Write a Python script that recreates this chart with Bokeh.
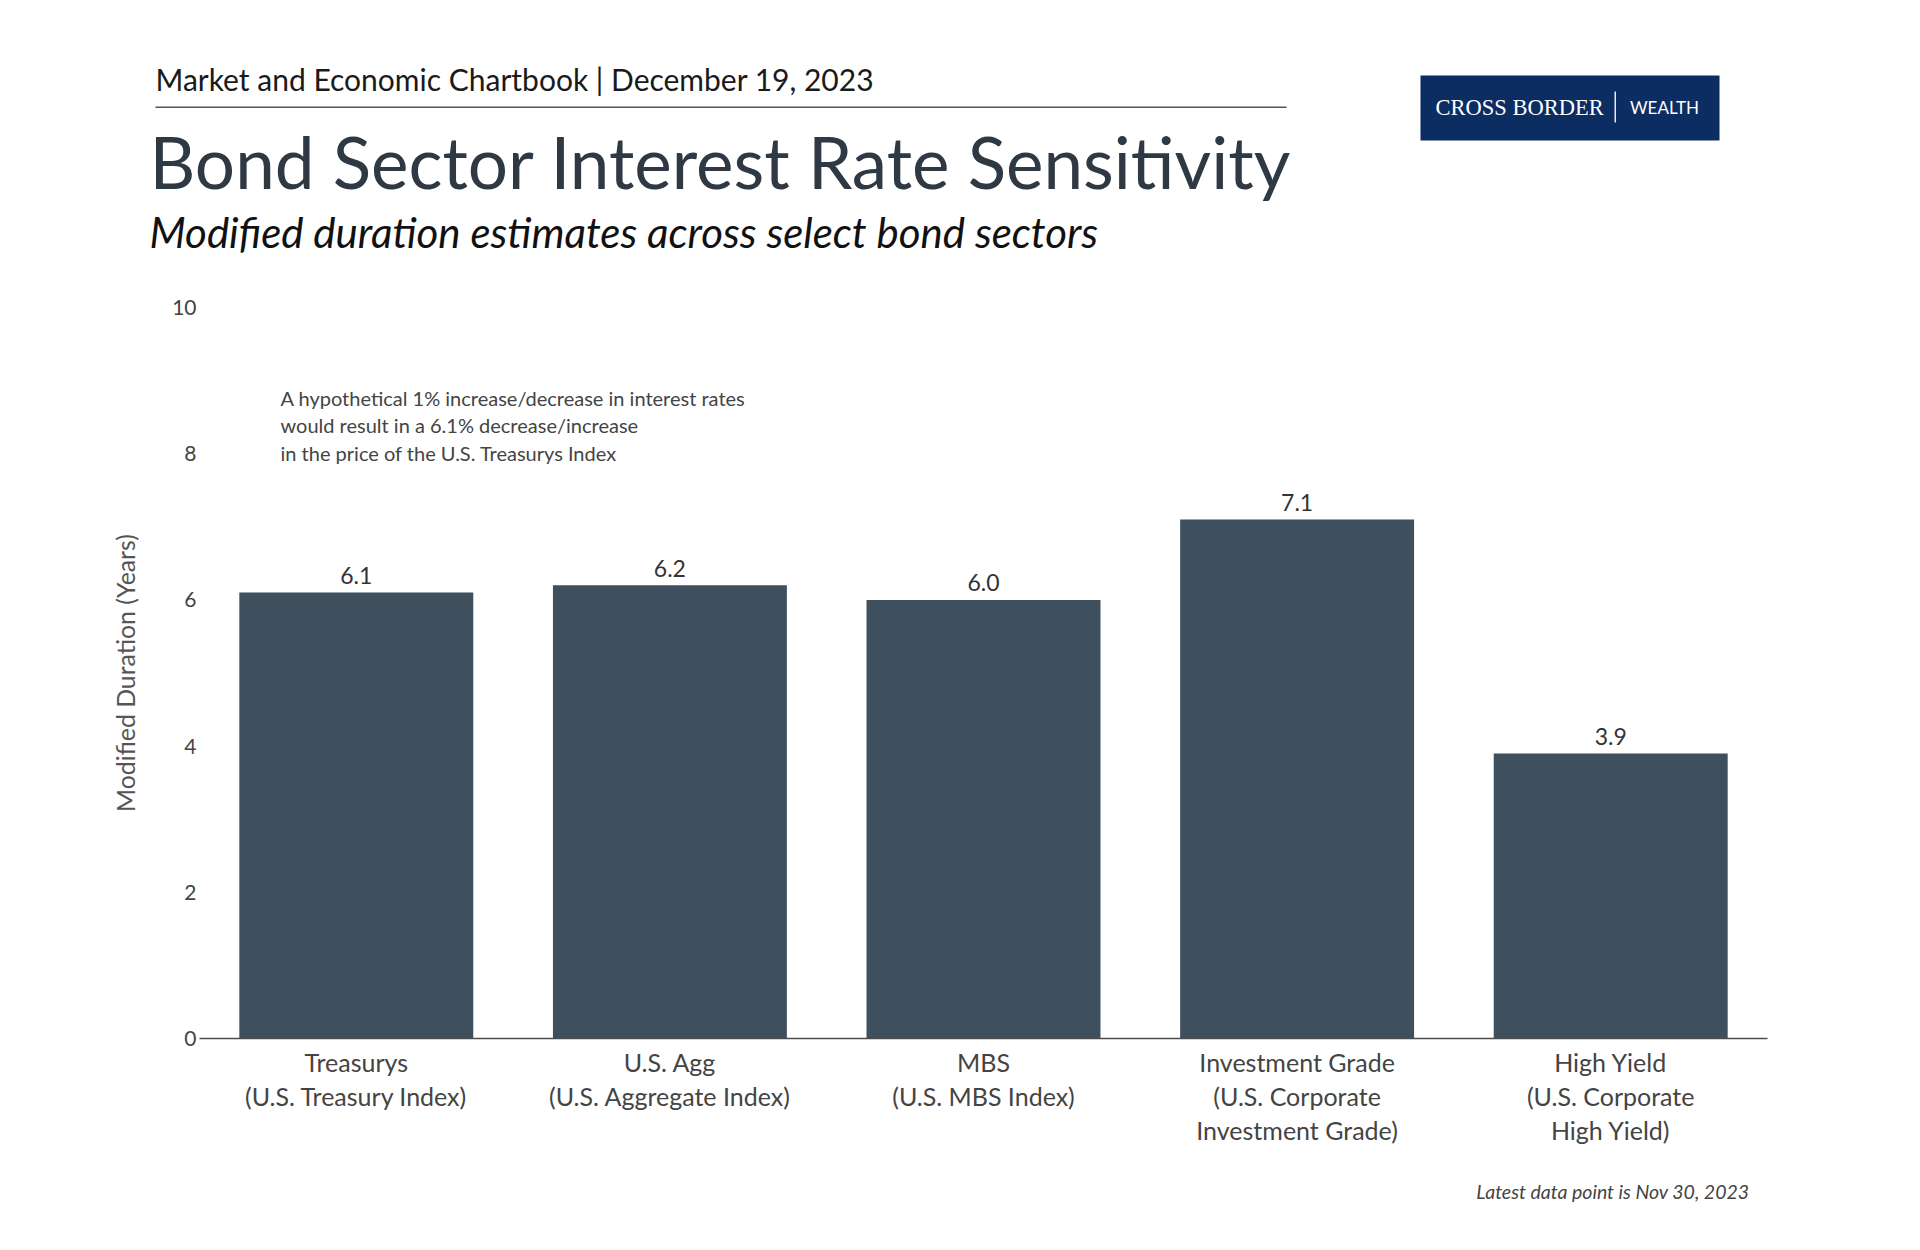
from bokeh.plotting import figure
from bokeh.layouts import column
from bokeh.models import (ColumnDataSource, FactorRange, Range1d, Label,
                          BoxAnnotation, FixedTicker)
from bokeh.core.properties import value
from bokeh.embed import file_html
from bokeh.resources import INLINE

# ---- data ----
categories = ["Treasurys", "U.S. Agg", "MBS", "Investment Grade", "High Yield"]
sublabels = ["(U.S. Treasury Index)", "(U.S. Aggregate Index)", "(U.S. MBS Index)",
             "(U.S. Corporate\nInvestment Grade)", "(U.S. Corporate\nHigh Yield)"]
durations = [6.1, 6.2, 6.0, 7.1, 3.9]
y_ticks = [0, 2, 4, 6, 8, 10]

header = "Market and Economic Chartbook | December 19, 2023"
title = "Bond Sector Interest Rate Sensitivity"
subtitle = "Modified duration estimates across select bond sectors"
note = ("A hypothetical 1% increase/decrease in interest rates\n"
        "would result in a 6.1% decrease/increase\n"
        "in the price of the U.S. Treasurys Index")
footer = "Latest data point is Nov 30, 2023"
y_label = "Modified Duration (Years)"

FONT = "Lato"
BAR = "#3e4f5d"

W = 1904
TOP_H = 270                  # header strip: page y 0..270
CH_TOP, CH_BOT = 270, 1172   # chart figure page y
FOOT_H = 1234 - CH_BOT
FL, FR, FT, FB = 199, 1767, 307, 1038   # frame edges in page px

factors = [f"{c}\n{s}" for c, s in zip(categories, sublabels)]


def strip(height, y0):
    f = figure(width=W, height=height, output_backend="svg", toolbar_location=None,
               x_range=Range1d(0, W), y_range=Range1d(y0 + height, y0),
               min_border=0, min_border_left=0, min_border_right=0,
               min_border_top=0, min_border_bottom=0,
               x_axis_type=None, y_axis_type=None)
    f.outline_line_color = None
    f.xgrid.grid_line_color = None
    f.ygrid.grid_line_color = None
    f.background_fill_color = "white"
    f.border_fill_color = "white"
    return f


def lab(fig, text, x, y, size, color, style="normal", align="left",
        baseline="middle", font=FONT, lh=1.2, units="data"):
    fig.add_layout(Label(x=x, y=y, x_units=units, y_units=units,
                         text=text, text_font=font, text_font_size=size,
                         text_color=color, text_font_style=style,
                         text_align=align, text_baseline=baseline,
                         text_line_height=lh))


def box(fig, l, r, t, b, color, alpha=1.0):
    fig.add_layout(BoxAnnotation(left=l, right=r, top=t, bottom=b,
                                 fill_color=color, fill_alpha=alpha,
                                 line_alpha=0, line_color=None))


# ---- header strip ----
top = strip(TOP_H, 0)
lab(top, header, 155, 78, "30px", "#1a1a1a")
box(top, 155, 1286, 106, 107.5, "#555555")
lab(top, title, 149, 161, "71px", "#2e3944")
lab(top, subtitle, 149, 231, "42px", "#111111", style="italic")
# logo
box(top, 1420, 1719, 75, 140, "#0c2d62")
box(top, 1614, 1615.5, 91, 122, "#ffffff", 0.9)
lab(top, "CROSS BORDER", 1435, 107, "22.5px", "white", font="Liberation Serif")
lab(top, "WEALTH", 1664, 107, "17px", "white", align="center")

# ---- chart ----
src = ColumnDataSource(dict(cat=factors, val=durations,
                            txt=[f"{v:.1f}" for v in durations]))

p = figure(width=W, height=CH_BOT - CH_TOP, output_backend="svg", toolbar_location=None,
           x_range=FactorRange(*factors, range_padding=0),
           y_range=Range1d(0, 10),
           min_border_left=FL, min_border_right=W - FR,
           min_border_top=FT - CH_TOP, min_border_bottom=CH_BOT - FB)
p.outline_line_color = None
p.background_fill_color = "white"
p.border_fill_color = "white"
p.xgrid.grid_line_color = None
p.ygrid.grid_line_color = None

p.vbar(x="cat", top="val", width=0.746, source=src, fill_color=BAR, line_color=None)
p.text(x="cat", y="val", text="txt", source=src, text_align="center",
       text_baseline="middle", y_offset=-17, text_font=value(FONT),
       text_font_size="23px", text_color="#333333")

xa = p.xaxis[0]
xa.axis_line_color = "#4d4d4d"
xa.axis_line_width = 1.5
xa.major_tick_line_color = None
xa.major_tick_out = 0
xa.minor_tick_line_color = None
xa.major_label_text_font = FONT
xa.major_label_text_font_size = "25px"
xa.major_label_text_color = "#444444"
xa.major_label_text_line_height = 1.14
xa.major_label_standoff = 8

ya = p.yaxis[0]
ya.ticker = FixedTicker(ticks=y_ticks)
ya.axis_line_color = None
ya.major_tick_line_color = None
ya.major_tick_out = 0
ya.minor_tick_line_color = None
ya.major_label_text_font = FONT
ya.major_label_text_font_size = "21px"
ya.major_label_text_color = "#444444"
ya.major_label_standoff = 3
ya.axis_label = y_label
ya.axis_label_text_font = FONT
ya.axis_label_text_font_style = "normal"
ya.axis_label_text_font_size = "24.8px"
ya.axis_label_text_color = "#555555"
ya.axis_label_standoff = 29

# note (screen units relative to the frame)
lab(p, note, 280 - FL, FB - 385, "20px", "#444444", baseline="top", lh=1.15,
    units="screen")

# ---- footer strip ----
foot = strip(FOOT_H, CH_BOT)
lab(foot, footer, 1749, 1191, "19.5px", "#444444", style="italic", align="right")

layout = column(column(top), p, column(foot), spacing=0)
open("out.html", "w").write(file_html(layout, INLINE))
